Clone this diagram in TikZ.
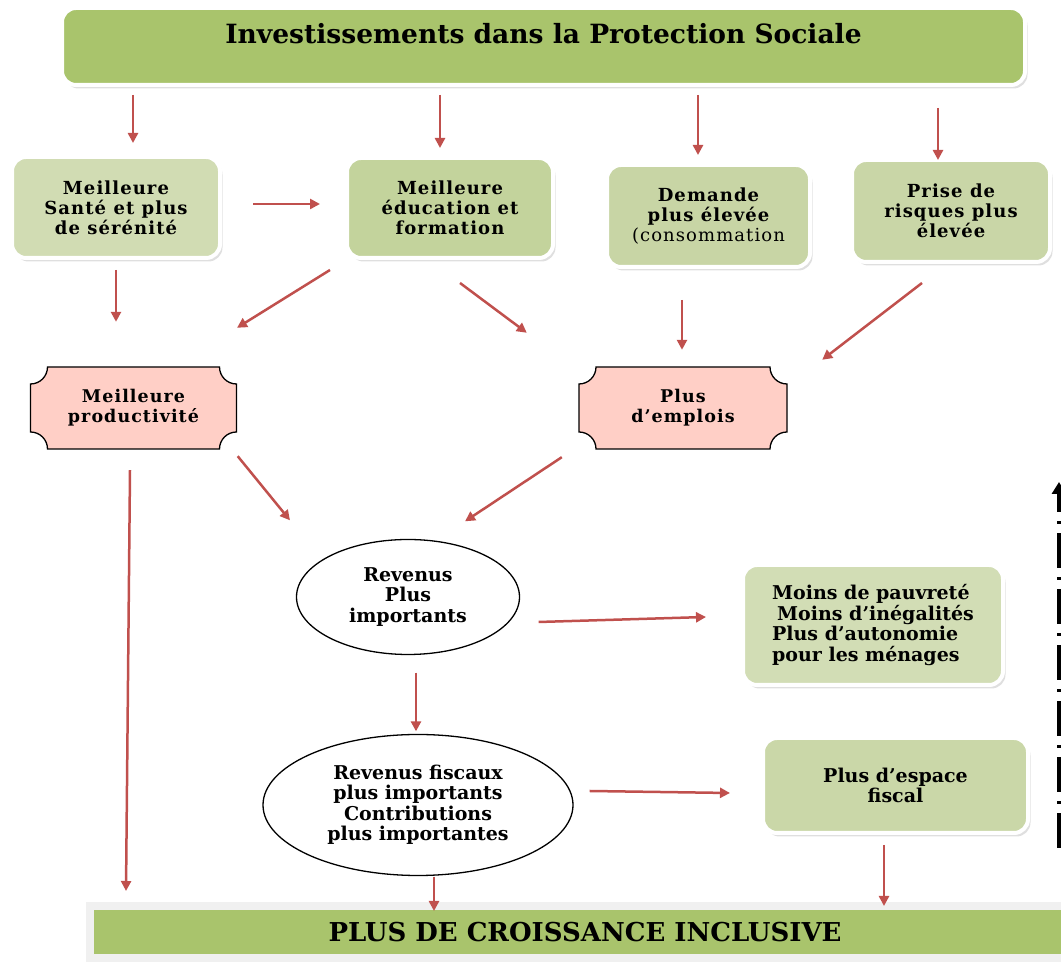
\documentclass[tikz,border=0pt]{standalone}
\usepackage{fontspec}
\setmainfont{DejaVu Serif}
\usetikzlibrary{arrows.meta,shapes.geometric,shadows,calc}

\definecolor{topgreen}{HTML}{A9C46C}
\definecolor{santefill}{HTML}{D1DCB3}
\definecolor{educfill}{HTML}{C3D39C}
\definecolor{demfill}{HTML}{C8D5A5}
\definecolor{prisefill}{HTML}{C9D6A7}
\definecolor{moinsfill}{HTML}{D2DDB5}
\definecolor{espfill}{HTML}{CAD7A8}
\definecolor{pinkfill}{HTML}{FFCFC6}
\definecolor{arrowred}{HTML}{C0504D}

\tikzset{
  greenbox/.style={rectangle, rounded corners=14pt, draw=white, line width=4pt,
    outer sep=0pt, align=center,
    font=\bfseries\fontsize{18}{20}\selectfont\addfontfeature{LetterSpace=6},
    drop shadow={opacity=0.25, shadow xshift=2.5pt, shadow yshift=-3.5pt}},
  notchbox/.style={rectangle, minimum width=208pt, minimum height=84pt, inner sep=0pt,
    align=center, font=\bfseries\fontsize{17.5}{20}\selectfont\addfontfeature{LetterSpace=6},
    path picture={
      \draw[fill=pinkfill, line width=1.3pt]
        ($(path picture bounding box.south west)+(1pt,18pt)$)
        -- ($(path picture bounding box.north west)+(1pt,-18pt)$) arc[start angle=270, end angle=360, radius=17pt]
        -- ($(path picture bounding box.north east)+(-18pt,-1pt)$) arc[start angle=180, end angle=270, radius=17pt]
        -- ($(path picture bounding box.south east)+(-1pt,18pt)$) arc[start angle=90, end angle=180, radius=17pt]
        -- ($(path picture bounding box.south west)+(18pt,1pt)$) arc[start angle=0, end angle=90, radius=17pt]
        -- cycle;}},
  oval/.style={ellipse, draw=black, line width=1.3pt, fill=white, inner sep=0pt,
    align=center, font=\bfseries\fontsize{19}{20.5}\selectfont},
  arr/.style={draw=arrowred, line width=2.5pt, -{Triangle[length=10pt,width=10pt]}}
}

\begin{document}
\begin{tikzpicture}[x=1pt,y=1pt]
    \useasboundingbox (0,0) rectangle (1061,963);

    % top and bottom bars
    \node[greenbox, fill=topgreen, minimum width=963pt, minimum height=77pt, text depth=27pt,
      font=\bfseries\fontsize{26.5}{30}\selectfont] (invest) at (543.5,916.5)
      {Investissements dans la Protection Sociale};
    \node[rectangle, fill=topgreen, draw=black!6, line width=8pt, minimum width=990pt,
      minimum height=52pt, font=\bfseries\fontsize{26}{30}\selectfont] (croiss) at (585,31)
      {PLUS DE CROISSANCE INCLUSIVE};

    % first row
    \node[greenbox, fill=santefill, minimum width=208pt, minimum height=101pt] (sante) at (116,755.5)
      {Meilleure\\Santé et plus\\de sérénité};
    \node[greenbox, fill=educfill, minimum width=206pt, minimum height=100pt] (educ) at (450,755)
      {Meilleure\\éducation et\\formation};
    \node[greenbox, fill=demfill, minimum width=203pt, minimum height=102pt] (demande) at (708.5,747)
      {Demande\\plus élevée\\{\mdseries(consommation}};
    \node[greenbox, fill=prisefill, minimum width=198pt, minimum height=102pt] (prise) at (951,752)
      {Prise de\\risques plus\\élevée};

    % second row
    \node[notchbox] (prod) at (133.5,555) {Meilleure\\productivité};
    \node[notchbox, minimum width=210pt] (emplois) at (683,555) {Plus\\d’emplois};

    % lower part
    \node[oval, minimum width=223pt, minimum height=115pt] (revenus) at (408,366)
      {Revenus\\Plus\\importants};
    \node[greenbox, fill=moinsfill, minimum width=260pt, minimum height=120pt, align=left,
      font=\bfseries\fontsize{19}{20.5}\selectfont] (moins) at (873,338)
      {Moins de pauvreté\\\hspace{5pt}Moins d’inégalités\\Plus d’autonomie\\pour les ménages};
    \node[oval, minimum width=310pt, minimum height=141pt] (fiscaux) at (418,158)
      {Revenus fiscaux\\plus importants\\Contributions\\plus importantes};
    \node[greenbox, fill=espfill, minimum width=265pt, minimum height=95pt,
      font=\bfseries\fontsize{19}{20.5}\selectfont] (espace) at (895.5,177.5)
      {Plus d’espace\\fiscal};

    % connectors
    \draw[arr] ($(invest.south west)+(71,-10)$) -- ($(sante.north)+(17,14)$);
    \draw[arr] ($(invest.south west)+(378,-10)$) -- ($(educ.north)+(-10,10)$);
    \draw[arr] ($(invest.south west)+(636,-10)$) -- ($(demande.north)+(-10.5,10)$);
    \draw[arr] ($(invest.south west)+(876,-23)$) -- ($(prise.north)+(-13,0)$);
    \draw[arr] ($(sante.east)+(33,3.5)$) -- ($(educ.west)+(-27,4)$);
    \draw[arr] ($(sante.south)+(0,-12)$) -- ($(prod.north)+(-17.5,44)$);
    \draw[arr] ($(educ.south west)+(-17,-12)$) -- ($(prod.north)+(103.5,38)$);
    \draw[arr] ($(educ.south)+(10,-25)$) -- ($(emplois.north west)+(-51,33)$);
    \draw[arr] ($(demande.south)+(-26.5,-33)$) -- ($(emplois.north)+(-1,16)$);
    \draw[arr] ($(prise.south west)+(70,-21)$) -- ($(emplois.north east)+(34,6)$);
    \draw[arr] ($(prod.south east)+(0,-6)$) -- ($(revenus.north)+(-118,18.5)$);
    \draw[arr] ($(emplois.south west)+(-16,-7)$) -- ($(revenus.north)+(57,17.5)$);
    \draw[arr] ($(prod.south)+(-3.5,-20)$) -- ($(croiss.north west)+(40,11)$);
    \draw[arr] ($(revenus.east)+(18.5,-25)$) -- ($(moins.west)+(-37,8)$);
    \draw[arr] ($(revenus.south)+(8,-17.5)$) -- ($(fiscaux.north)+(-2,2.5)$);
    \draw[arr] ($(fiscaux.east)+(16,14)$) -- ($(espace.west)+(-33,-7.5)$);
    \draw[arr] ($(fiscaux.south)+(16,-0.5)$) -- ($(croiss.north)+(-151,-9)$);
    \draw[arr] ($(espace.south)+(-11.5,-12)$) -- ($(croiss.north)+(299,-4)$);

    % cut-off dashed arrow at the right edge
    \coordinate (edgelow) at (1059,115);
    \coordinate (edgehigh) at (1059,481);
    \draw[line width=5pt, dash pattern=on 35pt off 9pt on 3pt off 9pt,
      -{Triangle[length=12pt,width=14pt]}] (edgelow) -- (edgehigh);
\end{tikzpicture}
\end{document}
